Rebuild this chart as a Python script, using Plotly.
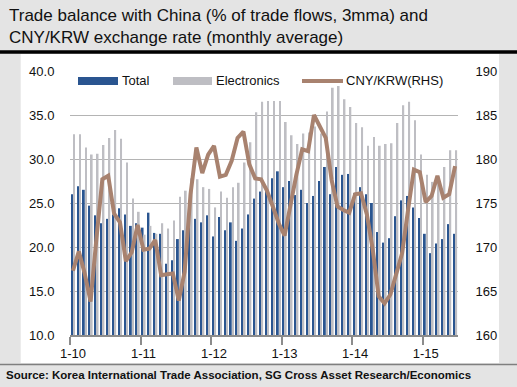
import plotly.graph_objects as go
import pandas as pd

# ---------------- data (Jan 2010 - Jun 2015, monthly) ----------------
months = [d.strftime("%Y-%m") for d in pd.date_range("2010-01-01", "2015-06-01", freq="MS")]

total = [26.0, 26.9, 26.5, 24.7, 23.6, 22.7, 23.2, 23.7, 24.4, 23.7, 22.4, 22.7,
         22.2, 23.9, 21.6, 21.5, 18.1, 18.5, 20.9, 21.9, 22.6, 23.2, 22.8, 23.6,
         21.2, 23.4, 21.9, 22.8, 20.7, 22.1, 23.7, 25.5, 26.3, 26.8, 27.8, 28.6,
         26.8, 27.5, 25.9, 26.5, 25.0, 25.8, 27.5, 29.1, 26.0, 29.1, 28.2, 28.3,
         26.1, 26.8, 26.0, 25.0, 21.7, 20.5, 21.0, 23.5, 25.3, 25.8, 24.5, 23.3,
         21.5, 19.3, 20.4, 20.9, 22.6, 21.5]

electronics = [32.8, 32.8, 31.3, 30.5, 30.6, 31.6, 32.4, 33.3, 32.3, 29.6, 25.5, 24.0,
               21.4, 22.4, 21.5, 22.7, 22.1, 23.0, 25.7, 26.4, 27.8, 27.7, 26.8, 26.6,
               24.5, 26.3, 25.6, 26.8, 27.3, 29.6, 31.9, 35.3, 36.5, 36.6, 36.6, 36.6,
               34.2, 32.7, 31.7, 32.9, 33.0, 33.7, 32.9, 35.4, 38.1, 38.3, 36.8, 35.9,
               34.1, 33.6, 31.5, 32.5, 31.5, 31.7, 31.8, 34.1, 36.1, 36.5, 34.4, 30.5,
               28.2, 27.4, 28.0, 29.1, 31.0, 31.0]

cny_krw = [167.3, 169.5, 167.0, 163.8, 171.0, 177.7, 178.1, 173.8, 172.8, 168.4, 169.4, 172.5,
           169.7, 169.8, 170.8, 166.8, 166.9, 167.0, 163.9, 167.2, 176.0, 181.3, 178.4, 180.5,
           181.5, 178.0, 178.2, 179.8, 182.4, 183.1, 179.4, 177.8, 177.7, 176.4, 174.6, 172.7,
           171.3, 175.0, 178.2, 181.1, 180.9, 185.0, 183.7, 182.4, 177.6, 174.6, 174.2, 173.9,
           176.0, 176.1, 173.7, 169.7, 164.4, 163.6, 164.6, 166.8, 169.3, 174.2, 178.8, 178.5,
           175.1, 175.8, 178.1, 175.6, 176.0, 179.2]

tick_positions = [0, 12, 24, 36, 48, 60]
tick_labels = ["1-10", "1-11", "1-12", "1-13", "1-14", "1-15"]

x = list(range(len(months)))

# ---------------- styles ----------------
BLUE = "#2A5590"
GREY_BAR = "#BEBEC3"
LINE = "#A8826F"
BG = "#E4E4E4"
FONT = "Liberation Sans, Arial, sans-serif"

W, H = 517, 387
L, R, T, B = 70, 458, 71, 335


def px(xp):
    return (xp - L) / (R - L)


def py(yp):
    return (B - yp) / (B - T)


fig = go.Figure()
fig.add_trace(go.Bar(x=x, y=total, name="Total", marker_color=BLUE, marker_line_width=0,
                     offset=-0.30, width=0.31, hovertext=months))
fig.add_trace(go.Bar(x=x, y=electronics, name="Electronics", marker_color=GREY_BAR,
                     marker_line_width=0, offset=0.06, width=0.29, hovertext=months))
fig.add_trace(go.Scatter(x=x, y=cny_krw, name="CNY/KRW(RHS)", mode="lines",
                         line=dict(color=LINE, width=4), yaxis="y2", hovertext=months))

shapes = [
    # white panel
    dict(type="rect", xref="paper", yref="paper", x0=px(20.7), x1=px(499), y0=py(363), y1=py(54),
         fillcolor="white", line_width=0, layer="below"),
    # black rule under title
    dict(type="line", xref="paper", yref="paper", x0=px(0), x1=px(517), y0=py(52), y1=py(52),
         line=dict(color="black", width=3.5)),
    # grey rule above source
    dict(type="line", xref="paper", yref="paper", x0=px(0), x1=px(517), y0=py(364.5), y1=py(364.5),
         line=dict(color="#7F7F7F", width=1.5)),
    # legend swatches
    dict(type="rect", xref="paper", yref="paper", x0=px(78), x1=px(118), y0=py(85), y1=py(77),
         fillcolor=BLUE, line_width=0),
    dict(type="rect", xref="paper", yref="paper", x0=px(173), x1=px(212), y0=py(85), y1=py(77),
         fillcolor=GREY_BAR, line_width=0),
    dict(type="line", xref="paper", yref="paper", x0=px(302), x1=px(343), y0=py(81), y1=py(81),
         line=dict(color=LINE, width=4)),
]

ann_font = dict(family=FONT, size=13, color="#111111")
annotations = [
    dict(text="Trade balance with China (% of trade flows, 3mma) and<br>CNY/KRW exchange rate (monthly average)",
         xref="paper", yref="paper", x=px(7), y=py(4), xanchor="left", yanchor="top",
         align="left", showarrow=False, font=dict(family=FONT, size=17, color="#111111")),
    dict(text="Source: Korea International Trade Association, SG Cross Asset Research/Economics",
         xref="paper", yref="paper", x=px(4), y=py(375), xanchor="left", yanchor="middle",
         showarrow=False, font=dict(family=FONT, size=11.5, color="#111111", weight="bold")),
    dict(text="Total", xref="paper", yref="paper", x=px(120), y=py(81), xanchor="left",
         yanchor="middle", showarrow=False, font=ann_font),
    dict(text="Electronics", xref="paper", yref="paper", x=px(214), y=py(81), xanchor="left",
         yanchor="middle", showarrow=False, font=ann_font),
    dict(text="CNY/KRW(RHS)", xref="paper", yref="paper", x=px(344), y=py(81), xanchor="left",
         yanchor="middle", showarrow=False, font=ann_font),
]

fig.update_layout(
    width=W, height=H,
    margin=dict(l=L, r=W - R, t=T, b=H - B, pad=0),
    paper_bgcolor=BG, plot_bgcolor="rgba(0,0,0,0)",
    barmode="overlay", showlegend=False,
    font=dict(family=FONT, size=13, color="#111111"),
    shapes=shapes, annotations=annotations,
    xaxis=dict(range=[-0.5, len(x) - 0.5], tickmode="array", tickvals=tick_positions,
               ticktext=tick_labels, ticks="outside", ticklen=6, tickcolor="rgba(0,0,0,0)",
               showgrid=False, zeroline=False, showline=True, linecolor="#8C8C8C", linewidth=1.5,
               minor=dict(tickmode="array", tickvals=[p - 0.5 for p in tick_positions],
                          ticks="outside", ticklen=8, tickcolor="#8C8C8C", tickwidth=1.5,
                          showgrid=False),
               tickfont=dict(size=13)),
    yaxis=dict(range=[10, 40], dtick=5, tick0=10, tickformat=".1f", showgrid=True,
               gridcolor="#B4B4B4", gridwidth=1, zeroline=False, showline=False,
               ticks="outside", ticklen=12, tickcolor="rgba(0,0,0,0)", tickfont=dict(size=13)),
    yaxis2=dict(range=[160, 190], dtick=5, tick0=160, overlaying="y", side="right",
                showgrid=False, zeroline=False, showline=False, ticks="outside", ticklen=14,
                tickcolor="rgba(0,0,0,0)", tickfont=dict(size=13)),
)

fig.write_html("out.html", config={"displayModeBar": False},
               post_script="document.body.style.margin='0px';document.body.style.background='" + BG + "';")
